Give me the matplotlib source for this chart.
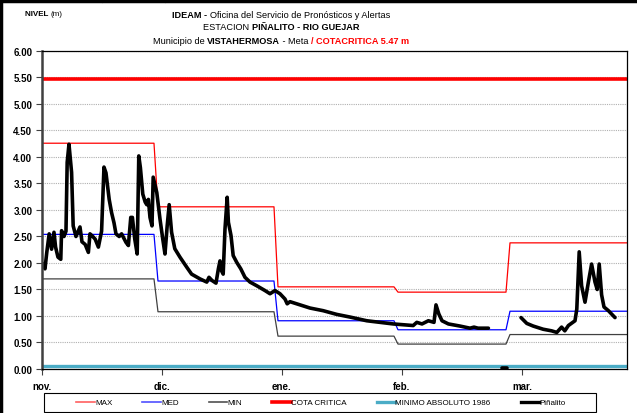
import matplotlib
matplotlib.use("Agg")
import matplotlib.pyplot as plt
from matplotlib.lines import Line2D
from matplotlib.patches import Rectangle

plt.rcParams['font.family'] = ['Liberation Sans', 'DejaVu Sans']

# eje x en dias desde el 1 de noviembre
month_labels = ['nov.', 'dic.', 'ene.', 'feb.', 'mar.']
month_ticks = [0, 30, 60, 90, 120]

# dias en que rige cada valor mensual (inicio, fin)
step_start = [0, 29, 59, 89, 117]
step_end = [28, 58, 88, 116, 146.25]

nivel_max = [4.26, 3.06, 1.55, 1.45, 2.38]
nivel_med = [2.54, 1.66, 0.91, 0.74, 1.09]
nivel_min = [1.70, 1.08, 0.62, 0.47, 0.65]

cota_critica = 5.47
minimo_absoluto = 0.06

# lecturas Piñalito
dias_a = [0.0, 0.2, 0.75, 1.2, 1.8, 2.4, 3.0, 3.4, 4.0, 4.7, 4.9, 5.5, 6.0, 6.3, 6.75,
          7.4, 7.8, 8.5, 9.5, 10.0, 10.8, 11.6, 12.0, 12.7, 13.3, 14.1, 14.9, 15.5,
          16.0, 16.8, 17.4, 18.0, 18.5, 19.3, 19.9, 21.0, 21.6, 22.2, 22.6, 23.2,
          23.8, 24.2, 24.6, 25.2, 25.8, 26.2, 26.6, 27.0, 27.5, 27.8, 28.7, 29.5,
          30.2, 30.75, 31.3, 31.8, 32.4, 33.2, 34.5, 36.2, 37.4, 39.5, 41.2, 41.75,
          42.5, 43.5, 44.1, 44.5, 44.9, 45.3, 45.75, 46.3, 46.6, 47.25, 47.8, 48.7,
          49.7, 50.75, 52.0, 53.7, 55.75, 57.0, 58.25, 59.5, 60.75, 61.3, 62.0,
          64.5, 67.0, 70.3, 73.7, 77.0, 81.2, 87.8, 92.8, 93.7, 95.0, 96.6, 98.0,
          98.5, 99.2, 100.0, 101.6, 104.5, 107.0, 108.0, 109.0, 111.6]
nivel_a = [2.00, 1.98, 1.89, 2.20, 2.55, 2.26, 2.58, 2.30, 2.11, 2.07, 2.61, 2.50, 2.60,
           3.90, 4.24, 3.71, 2.70, 2.50, 2.68, 2.40, 2.35, 2.20, 2.55, 2.50, 2.45,
           2.30, 2.60, 3.81, 3.70, 3.20, 2.95, 2.76, 2.55, 2.50, 2.55, 2.39, 2.33,
           2.86, 2.86, 2.45, 2.17, 4.02, 3.80, 3.30, 3.15, 3.10, 3.20, 2.86, 2.70,
           3.62, 3.33, 2.83, 2.45, 2.17, 2.70, 3.10, 2.58, 2.27, 2.11, 1.92, 1.79,
           1.70, 1.64, 1.73, 1.67, 1.62, 1.89, 2.04, 1.85, 1.79, 2.64, 3.24, 2.77,
           2.52, 2.14, 2.01, 1.89, 1.73, 1.64, 1.57, 1.48, 1.42, 1.48, 1.42, 1.32,
           1.23, 1.27, 1.21, 1.15, 1.10, 1.03, 0.98, 0.91, 0.85, 0.82, 0.88, 0.85,
           0.91, 0.88, 1.21, 1.04, 0.91, 0.85, 0.81, 0.77, 0.79, 0.77, 0.77]
dias_b = [115.0, 116.2]
nivel_b = [0.02, 0.02]
dias_c = [119.75, 121.2, 122.8, 125.3, 127.4, 128.7, 129.9, 130.7, 131.6, 133.25,
          133.7, 134.3, 134.9, 135.75, 136.6, 137.4, 138.25, 138.8, 139.3, 139.9,
          140.5, 141.6, 143.25]
nivel_c = [0.97, 0.86, 0.81, 0.75, 0.72, 0.69, 0.79, 0.72, 0.82, 0.91, 1.13, 2.21,
           1.57, 1.26, 1.64, 1.98, 1.64, 1.50, 1.98, 1.40, 1.17, 1.10, 0.97]


def escalon(valores):
    xs, ys = [], []
    for a, b, v in zip(step_start, step_end, valores):
        xs += [a, b]
        ys += [v, v]
    return xs, ys


fig = plt.figure(figsize=(6.37, 4.14), dpi=100)
ax = fig.add_axes([0.0659, 0.1063, 0.9184, 0.7681])

c_max, c_med, c_min = '#ff0000', '#0000ff', '#404040'
c_cota, c_abs = '#ff0000', '#4bacc6'

ax.plot(*escalon(nivel_max), color=c_max, lw=0.9)
ax.plot(*escalon(nivel_med), color=c_med, lw=0.9)
ax.plot(*escalon(nivel_min), color=c_min, lw=0.9)
ax.axhline(cota_critica, color=c_cota, lw=2.6)
ax.axhline(minimo_absoluto, color=c_abs, lw=2.4)
for d, n in [(dias_a, nivel_a), (dias_b, nivel_b), (dias_c, nivel_c)]:
    ax.plot(d, n, color='black', lw=2.6, solid_joinstyle='round', solid_capstyle='round')

ax.set_xlim(0, 146.25)
ax.set_ylim(0, 6)
ax.set_yticks([i * 0.5 for i in range(13)])
ax.set_yticklabels(['%.2f' % (i * 0.5) for i in range(13)], fontsize=7, fontweight='bold')
ax.set_xticks(month_ticks)
ax.set_xticklabels(month_labels, fontsize=7, fontweight='bold')
ax.tick_params(axis='y', length=4, width=0.8, pad=3, color='#404040')
ax.tick_params(axis='x', length=4, width=0.8, pad=5, color='#404040')
ax.grid(axis='y', color='#b0b0b0', linestyle=(0, (1, 1)), lw=0.8)
ax.set_axisbelow(True)
ax.spines['left'].set_linewidth(1.8)
ax.spines['left'].set_color('#404040')
for s in ['top', 'right', 'bottom']:
    ax.spines[s].set_linewidth(0.9)
    ax.spines[s].set_color('black')

# titulo con tramos en negrita y color
renderer = fig.canvas.get_renderer()


def linea(y, partes, size=6.6, x0=None):
    textos = []
    for txt, peso, color in partes:
        t = fig.text(0, y, txt, fontsize=size, fontweight=peso, color=color,
                     va='center', ha='left')
        textos.append(t)
    anchos = [t.get_window_extent(renderer).width for t in textos]
    x = 281 - sum(anchos) / 2 if x0 is None else x0
    for t, w in zip(textos, anchos):
        t.set_x(x / 637)
        x += w


linea(1 - 15 / 414, [('IDEAM - ', 'bold', 'black'),
                     ('Oficina del Servicio de Pronósticos y Alertas', 'normal', 'black')])
linea(1 - 28 / 414, [('ESTACION ', 'normal', 'black'),
                     ('PIÑALITO - RIO GUEJAR', 'bold', 'black')])
linea(1 - 41 / 414, [('Municipio de ', 'normal', 'black'),
                     ('VISTAHERMOSA', 'bold', 'black'),
                     (' - Meta ', 'normal', 'black'),
                     ('/ COTACRITICA 5.47 m', 'bold', '#ff0000')])
linea(1 - 15 / 414, [('NIVEL ', 'bold', 'black'), ('(m)', 'normal', 'black')],
      size=5.8, x0=25)

# marco exterior
fig.add_artist(Line2D([0, 1], [1 - 2 / 414, 1 - 2 / 414], color='black', lw=2.5))
fig.add_artist(Line2D([1.5 / 637, 1.5 / 637], [0, 1], color='black', lw=2.5))
for xv in [102, 165]:
    fig.add_artist(Line2D([xv / 637, xv / 637], [1 - 3 / 414, 1], color='black', lw=0.8))

handles = [
    Line2D([], [], color='#ff6060', lw=1.2),
    Line2D([], [], color='#5050ff', lw=1.2),
    Line2D([], [], color='#505050', lw=1.2),
    Line2D([], [], color=c_cota, lw=2.6),
    Line2D([], [], color=c_abs, lw=2.4),
    Line2D([], [], color='black', lw=2.4),
]
labels = ['MAX', 'MED', 'MIN', 'COTA CRITICA', 'MINIMO ABSOLUTO 1986', 'Piñalito']
leg = fig.legend(handles, labels, loc='center', bbox_to_anchor=(321 / 637, 1 - 403.5 / 414),
                 ncol=6, fontsize=5.8, handlelength=2.3, handletextpad=0.05,
                 columnspacing=3.7, frameon=False, borderpad=0.35, borderaxespad=0)
fig.add_artist(Rectangle((44 / 637, 1 - 413 / 414), 552 / 637, 19 / 414,
                         transform=fig.transFigure, fill=False, edgecolor='black', lw=0.8))

fig.savefig('out.png', dpi=100)
